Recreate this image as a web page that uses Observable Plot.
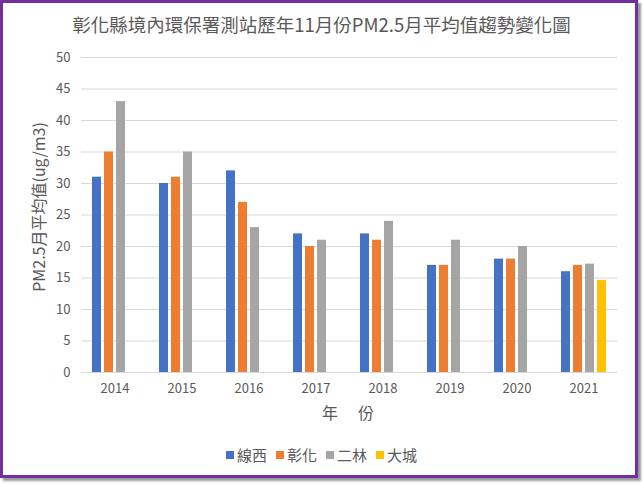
<!DOCTYPE html>
<html>
<head>
<meta charset="utf-8">
<script src="https://cdn.jsdelivr.net/npm/d3@7"></script>
<script src="https://cdn.jsdelivr.net/npm/@observablehq/plot@0.6"></script>
<style>
  html, body { margin: 0; padding: 0; background: #fff; }
  #wrap { position: relative; width: 643px; height: 484px; overflow: hidden; background: #fff;
          font-family: "Noto Sans CJK TC", "Noto Sans", sans-serif; color: #595959; }
  #frame { position: absolute; left: 0; top: 0; width: 632px; height: 472px;
           border: 3px solid #7030A0; box-shadow: 3px 3px 2px #9a9a9a; background: #fff; }
  #title { position: absolute; left: 0; width: 643px; top: 10px; text-align: center;
           font-size: 18.5px; line-height: 28px; white-space: nowrap; }
  #chart { position: absolute; left: 0; top: 40px; }
  #ylabel { position: absolute; left: 38px; top: 207px; transform: translate(-50%, -50%) rotate(-90deg);
            font-size: 16px; white-space: nowrap; line-height: 20px; }
  #xlabel { position: absolute; left: 78px; width: 542px; top: 401px; text-align: center;
            font-size: 16px; letter-spacing: 2px; line-height: 22px; }
  #legend { position: absolute; left: 0; width: 643px; top: 445px; display: flex; justify-content: center;
            gap: 9px; font-size: 15px; line-height: 20px; }
  .item { display: flex; align-items: center; gap: 3px; }
  .sw { width: 8px; height: 8px; display: inline-block; }
</style>
</head>
<body>
<div id="wrap">
  <div id="frame"></div>
  <div id="title"></div>
  <div id="chart"></div>
  <div id="ylabel"></div>
  <div id="xlabel"></div>
  <div id="legend"></div>
</div>
<script>
const titleText = "彰化縣境內環保署測站歷年11月份PM2.5月平均值趨勢變化圖";
const yLabelText = "PM2.5月平均值(ug/m3)";
const xLabelText = "年　份";
const years = ["2014", "2015", "2016", "2017", "2018", "2019", "2020", "2021"];
const stations = ["線西", "彰化", "二林", "大城"];
const colors = ["#4472C4", "#ED7D31", "#A5A5A5", "#FFC000"];
const xianxi  = [31, 30, 32, 22, 22, 17, 18, 16];
const changhua = [35, 31, 27, 20, 21, 17, 18, 17];
const erlin   = [43, 35, 23, 21, 24, 21, 20, 17.2];
const dacheng = [null, null, null, null, null, null, null, 14.6];
const yTicks = [0, 5, 10, 15, 20, 25, 30, 35, 40, 45, 50];

const series = [xianxi, changhua, erlin, dacheng];
const rows = [];
years.forEach((yr, i) => {
  stations.forEach((st, j) => {
    const v = series[j][i];
    if (v != null) rows.push({year: yr, station: st, value: v});
  });
});

document.getElementById("title").textContent = titleText;
document.getElementById("ylabel").textContent = yLabelText;
document.getElementById("xlabel").textContent = xLabelText;

const chart = Plot.plot({
  width: 643,
  height: 385,
  marginTop: 17,
  marginBottom: 53,
  marginLeft: 78,
  marginRight: 23,
  style: {fontSize: "13px", fontFamily: "\"Noto Sans CJK TC\", \"Noto Sans\", sans-serif", color: "#595959", background: "transparent"},
  facet: {data: rows, x: "year"},
  fx: {domain: years, padding: 0, axis: "bottom", tickSize: 0, tickPadding: 11, label: null},
  x: {domain: stations, axis: null, paddingInner: 0.22, paddingOuter: 0.86},
  y: {domain: [0, 50], ticks: yTicks, tickSize: 0, tickPadding: 11, label: null},
  color: {domain: stations, range: colors},
  marks: [
    Plot.ruleY(yTicks, {stroke: "#D9D9D9", strokeWidth: 1}),
    Plot.barY(rows, {x: "station", y: "value", fill: "station", inset: 0})
  ]
});
document.getElementById("chart").appendChild(chart);

const legend = document.getElementById("legend");
stations.forEach((st, j) => {
  const it = document.createElement("div");
  it.className = "item";
  const sw = document.createElement("span");
  sw.className = "sw";
  sw.style.background = colors[j];
  const tx = document.createElement("span");
  tx.textContent = st;
  it.appendChild(sw);
  it.appendChild(tx);
  legend.appendChild(it);
});
</script>
</body>
</html>
